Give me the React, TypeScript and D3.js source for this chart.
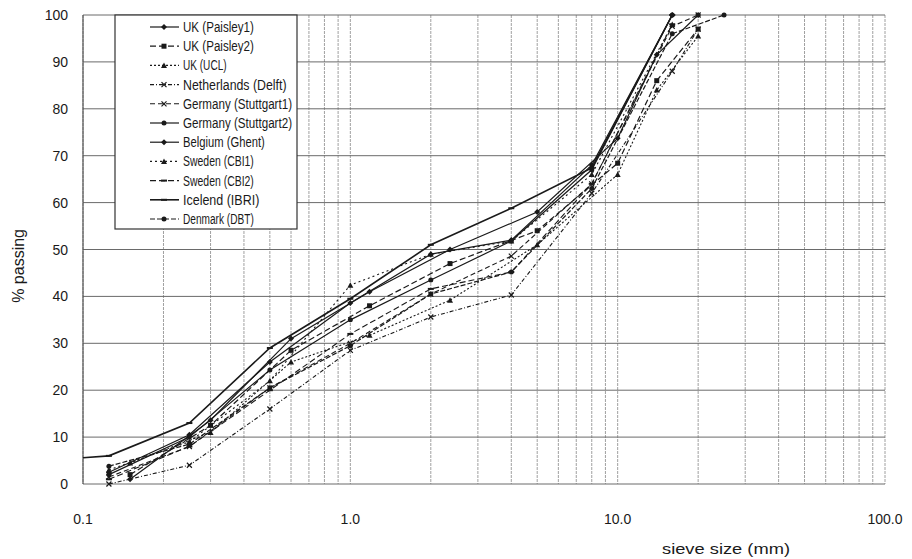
import React, { useEffect, useRef } from 'react';
import * as d3 from 'd3';

interface Series {
  name: string;
  sizes: number[];
  passing: number[];
  dash: string;
  marker: string;
  width: number;
}

// sieve sets used by the labs
const ukSizes = [0.15, 0.3, 0.6, 1.18, 2.36, 5, 10, 14, 20];
const euSizes = [0.125, 0.25, 0.5, 1, 2, 4, 8, 16];

const paisley1 = [1, 13.6, 31, 41, 50, 58, 73.7, 91.5, 100];
const paisley2 = [2, 12.5, 28.5, 38, 47, 54, 68.4, 86, 97];
const ucl = [4.5, 11, 26, 31.7, 39.2, 51, 66, 84, 95.5];
const delft = [0, 4, 16, 28.5, 35.6, 40.3, 62, 88, 97, 100];
const stuttgart1 = [1.5, 8, 20.5, 30, 40.5, 48.6, 64, 97.6, 100];
const stuttgart2 = [2, 10, 24.3, 35, 43.5, 51.8, 67, 100];
const ghent = [2.5, 10.5, 26, 38.6, 49, 52, 68, 100];
const cbi1 = [3, 9, 22, 42.4, 49, 51.8, 66, 98];
const cbi2 = [1, 8, 20, 32, 41.6, 45.2, 64, 98];
const ibriSizes = [0.1, 0.125, 0.25, 0.5, 1, 2, 4, 8, 16];
const ibri = [5.6, 6, 13, 29, 39.5, 51, 58.8, 67.4, 100];
const dbt = [3.8, 8.5, 20.5, 29.5, 40.5, 45.2, 63, 96, 100];

const yTicks = [0, 10, 20, 30, 40, 50, 60, 70, 80, 90, 100];
const xLabels = [
  { v: 0.1, t: '0.1' },
  { v: 1, t: '1.0' },
  { v: 10, t: '10.0' },
  { v: 100, t: '100.0' },
];

const series: Series[] = [
  { name: 'UK (Paisley1)', sizes: ukSizes, passing: paisley1, dash: '', marker: 'diamond', width: 1.2 },
  { name: 'UK (Paisley2)', sizes: ukSizes, passing: paisley2, dash: '6,3', marker: 'square', width: 1.2 },
  { name: 'UK (UCL)', sizes: ukSizes, passing: ucl, dash: '2,2', marker: 'triangle', width: 1.1 },
  { name: 'Netherlands (Delft)', sizes: [...euSizes, 20], passing: delft, dash: '4,2,1,2', marker: 'x', width: 1.1 },
  { name: 'Germany (Stuttgart1)', sizes: [...euSizes, 20], passing: stuttgart1, dash: '5,3', marker: 'x', width: 1.1 },
  { name: 'Germany (Stuttgart2)', sizes: euSizes, passing: stuttgart2, dash: '', marker: 'circle', width: 1.2 },
  { name: 'Belgium (Ghent)', sizes: euSizes, passing: ghent, dash: '', marker: 'diamond', width: 1.2 },
  { name: 'Sweden (CBI1)', sizes: euSizes, passing: cbi1, dash: '2,3', marker: 'triangle', width: 1.1 },
  { name: 'Sweden (CBI2)', sizes: euSizes, passing: cbi2, dash: '6,3', marker: 'dash', width: 1.1 },
  { name: 'Icelend (IBRI)', sizes: ibriSizes, passing: ibri, dash: '', marker: 'dash', width: 1.6 },
  { name: 'Denmark (DBT)', sizes: [...euSizes, 25], passing: dbt, dash: '5,2', marker: 'circle', width: 1.2 },
];

const ink = '#1a1a1a';
const font = 'Liberation Sans, Arial, sans-serif';

function drawMarker(g: d3.Selection<SVGGElement, unknown, null, undefined>, kind: string, cx: number, cy: number) {
  if (kind === 'square') {
    g.append('rect').attr('x', cx - 2.5).attr('y', cy - 2.5).attr('width', 5).attr('height', 5).attr('fill', ink);
  } else if (kind === 'circle') {
    g.append('circle').attr('cx', cx).attr('cy', cy).attr('r', 2.5).attr('fill', ink);
  } else if (kind === 'diamond') {
    g.append('path')
      .attr('d', `M${cx},${cy - 3}L${cx + 3},${cy}L${cx},${cy + 3}L${cx - 3},${cy}Z`)
      .attr('fill', ink);
  } else if (kind === 'triangle') {
    g.append('path')
      .attr('d', `M${cx},${cy - 3}L${cx + 3},${cy + 2.5}L${cx - 3},${cy + 2.5}Z`)
      .attr('fill', ink);
  } else if (kind === 'x') {
    g.append('path')
      .attr('d', `M${cx - 2.5},${cy - 2.5}L${cx + 2.5},${cy + 2.5}M${cx + 2.5},${cy - 2.5}L${cx - 2.5},${cy + 2.5}`)
      .attr('stroke', ink)
      .attr('stroke-width', 1.2);
  } else {
    g.append('rect').attr('x', cx - 3).attr('y', cy - 1).attr('width', 6).attr('height', 2).attr('fill', ink);
  }
}

const App: React.FC = () => {
  const svgRef = useRef<SVGSVGElement>(null);

  useEffect(() => {
    document.body.style.margin = '0';
    if (!svgRef.current) return;
    const width = 912;
    const height = 559;

    const svg = d3.select(svgRef.current);
    svg.selectAll('*').remove();
    svg.attr('width', width).attr('height', height).style('display', 'block');

    svg.append('rect').attr('width', width).attr('height', height).attr('fill', '#ffffff');

    const x = d3.scaleLog().domain([0.1, 100]).range([83, 885]);
    const y = d3.scaleLinear().domain([0, 100]).range([484, 15]);

    // vertical grid (log minor ticks)
    svg
      .append('g')
      .selectAll('line')
      .data(x.ticks())
      .enter()
      .append('line')
      .attr('x1', (d) => x(d))
      .attr('x2', (d) => x(d))
      .attr('y1', y(100))
      .attr('y2', y(0))
      .attr('stroke', '#a0a0a0')
      .attr('stroke-width', 1)
      .attr('stroke-dasharray', '3,1');

    // horizontal grid
    svg
      .append('g')
      .selectAll('line')
      .data(yTicks)
      .enter()
      .append('line')
      .attr('x1', x(0.1))
      .attr('x2', x(100))
      .attr('y1', (d) => y(d))
      .attr('y2', (d) => y(d))
      .attr('stroke', '#6a6a6a')
      .attr('stroke-width', 1);

    // left axis line
    svg
      .append('line')
      .attr('x1', x(0.1))
      .attr('x2', x(0.1))
      .attr('y1', y(100))
      .attr('y2', y(0))
      .attr('stroke', '#555')
      .attr('stroke-width', 1.2);

    // y tick labels
    svg
      .append('g')
      .selectAll('text')
      .data(yTicks)
      .enter()
      .append('text')
      .attr('x', 68)
      .attr('y', (d) => y(d) + 5)
      .attr('text-anchor', 'end')
      .attr('font-family', font)
      .attr('font-size', 14)
      .attr('fill', ink)
      .text((d) => String(d));

    // x tick labels
    svg
      .append('g')
      .selectAll('text')
      .data(xLabels)
      .enter()
      .append('text')
      .attr('x', (d) => x(d.v))
      .attr('y', 524)
      .attr('text-anchor', 'middle')
      .attr('font-family', font)
      .attr('font-size', 14)
      .attr('fill', ink)
      .text((d) => d.t);

    svg
      .append('text')
      .attr('x', 662)
      .attr('y', 554)
      .attr('font-family', font)
      .attr('font-size', 15)
      .attr('textLength', 128)
      .attr('lengthAdjust', 'spacingAndGlyphs')
      .attr('fill', ink)
      .text('sieve size (mm)');

    svg
      .append('text')
      .attr('transform', `translate(24,${y(46.5)}) rotate(-90)`)
      .attr('text-anchor', 'middle')
      .attr('font-family', font)
      .attr('font-size', 16)
      .attr('fill', ink)
      .text('% passing');

    // series
    const plot = svg.append('g');
    const line = d3
      .line<[number, number]>()
      .x((d) => x(d[0]))
      .y((d) => y(d[1]));

    series.forEach((s) => {
      const pts: [number, number][] = s.sizes.map((v, i) => [v, s.passing[i]]);
      plot
        .append('path')
        .attr('d', line(pts) || '')
        .attr('fill', 'none')
        .attr('stroke', ink)
        .attr('stroke-width', s.width)
        .attr('stroke-dasharray', s.dash || null);
      const mg = plot.append('g');
      pts.forEach((p, i) => {
        if (s.sizes[i] > 0.1) drawMarker(mg, s.marker, x(p[0]), y(p[1]));
      });
    });

    // legend
    const lx = 115;
    const ly = y(100);
    const legend = svg.append('g');
    legend
      .append('rect')
      .attr('x', lx)
      .attr('y', ly)
      .attr('width', 182)
      .attr('height', 214)
      .attr('fill', '#ffffff')
      .attr('stroke', '#333')
      .attr('stroke-width', 1.2);

    series.forEach((s, i) => {
      const cy = 27 + i * 19.2;
      legend
        .append('line')
        .attr('x1', 150)
        .attr('x2', 179)
        .attr('y1', cy)
        .attr('y2', cy)
        .attr('stroke', ink)
        .attr('stroke-width', s.width)
        .attr('stroke-dasharray', s.dash || null);
      drawMarker(legend, s.marker, 164, cy);
      legend
        .append('text')
        .attr('x', 183)
        .attr('y', cy + 5)
        .attr('font-family', font)
        .attr('font-size', 14)
        .attr('textLength', s.name.length * 5.45)
        .attr('lengthAdjust', 'spacingAndGlyphs')
        .attr('fill', ink)
        .text(s.name);
    });
  }, []);

  return <svg ref={svgRef} />;
};

export default App;
